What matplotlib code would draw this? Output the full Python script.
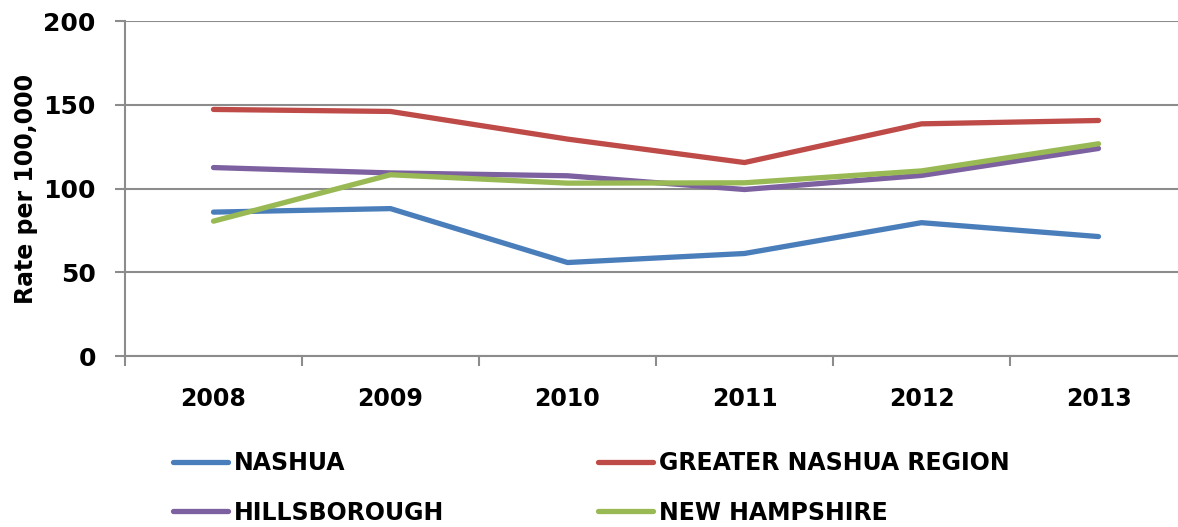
import matplotlib
matplotlib.use('Agg')

import matplotlib.pyplot as plt
import numpy as np

years = ['2008', '2009', '2010', '2011', '2012', '2013']
nashua = [85.9, 88.0, 55.8, 61.2, 79.6, 71.3]
greater_nashua = [147.2, 146.0, 129.5, 115.5, 138.6, 140.6]
hillsborough = [112.5, 109.3, 107.6, 99.4, 107.8, 123.9]
new_hampshire = [80.5, 108.2, 103.2, 103.4, 110.5, 126.7]

series = [('NASHUA', nashua, '#4A7EBB'),
          ('GREATER NASHUA REGION', greater_nashua, '#BE4B48'),
          ('HILLSBOROUGH', hillsborough, '#7D60A0'),
          ('NEW HAMPSHIRE', new_hampshire, '#98B954')]

plt.rcParams['font.family'] = ['DejaVu Sans']
plt.rcParams['font.weight'] = 'bold'

W, H = 1178, 527
fig = plt.figure(figsize=(W / 100, H / 100), dpi=100)
# axes box in pixels: left 125, right 1187, top 21, bottom 356
ax = fig.add_axes([125 / W, 1 - 356 / H, (1187 - 125) / W, (356 - 21) / H])

x = np.arange(len(years))
handles = []
for name, vals, color in series:
    ln, = ax.plot(x, vals, color=color, lw=3.8, solid_capstyle='round', label=name, zorder=3)
    handles.append(ln)

ax.set_xlim(-0.5, len(years) - 0.5)
ax.set_ylim(0, 200)
ax.set_yticks([0, 50, 100, 150, 200])
ax.yaxis.grid(True, color='#8C8C8C', lw=1.5, zorder=0)
ax.set_axisbelow(True)

ax.set_xticks(x)
ax.set_xticklabels(years, fontsize=17, fontweight='bold')
ax.set_xticks(np.arange(-0.5, len(years), 1), minor=True)
ax.tick_params(axis='x', which='major', length=0, pad=22)
ax.tick_params(axis='x', which='minor', length=7, width=1.5, color='#8C8C8C', direction='out')
ax.tick_params(axis='y', length=7, width=1.5, color='#8C8C8C', labelsize=18, pad=14)
for lbl in ax.get_yticklabels():
    lbl.set_fontweight('bold')

for side in ['top', 'right']:
    ax.spines[side].set_visible(False)
ax.spines['left'].set_color('#8C8C8C')
ax.spines['left'].set_linewidth(1.5)
ax.spines['bottom'].set_color('#8C8C8C')
ax.spines['bottom'].set_linewidth(1.5)

ax.set_ylabel('Rate per 100,000', fontsize=17, fontweight='bold', labelpad=4)

# legend fills column-wise, so order handles to read row by row
order = [0, 2, 1, 3]
fig.legend([handles[i] for i in order], [series[i][0] for i in order],
           loc='upper left', bbox_to_anchor=(152 / W, 1 - 430 / H), ncol=2,
           frameon=False, handlelength=2.3, handletextpad=0.25,
           columnspacing=6.55, labelspacing=1.08, prop={'weight': 'bold', 'size': 17})

fig.savefig('out.png', dpi=100)
